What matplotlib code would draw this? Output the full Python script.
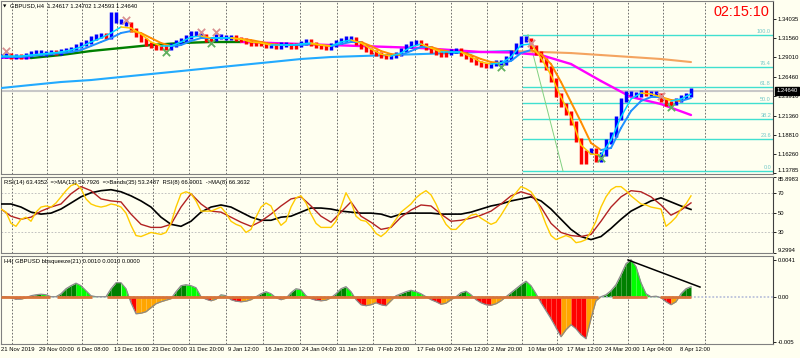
import numpy as np
import matplotlib
matplotlib.use("Agg")
import matplotlib.pyplot as plt
from matplotlib.collections import LineCollection

plt.rcParams['font.family'] = ['Liberation Sans', 'DejaVu Sans']

# ---- values (x runs in chart pixels from the left edge) ----
# GBPUSD H4 close, one value every 5 px
close = [1.2918, 1.2931, 1.2905, 1.2918, 1.2905, 1.2931, 1.2957, 1.2971, 1.2944, 1.2957,
         1.2971, 1.2957, 1.2984, 1.2997, 1.3010, 1.3049, 1.3076, 1.3102, 1.3154, 1.3181,
         1.3194, 1.3167, 1.3469, 1.3377, 1.3364, 1.3338, 1.3259, 1.3194, 1.3128, 1.3076,
         1.3049, 1.3023, 1.3036, 1.3023, 1.3062, 1.3102, 1.3128, 1.3167, 1.3220, 1.3207,
         1.3181, 1.3128, 1.3141, 1.3181, 1.3167, 1.3154, 1.3167, 1.3141, 1.3128, 1.3102,
         1.3076, 1.3089, 1.3076, 1.3049, 1.3062, 1.3036, 1.3076, 1.3062, 1.3036, 1.3062,
         1.3089, 1.3115, 1.3076, 1.3049, 1.3036, 1.3023, 1.3062, 1.3102, 1.3128, 1.3154,
         1.3141, 1.3089, 1.3036, 1.2997, 1.2971, 1.2944, 1.2918, 1.2905, 1.2918, 1.2944,
         1.2997, 1.3049, 1.3089, 1.3102, 1.3062, 1.3023, 1.2984, 1.2957, 1.2931, 1.2957,
         1.2984, 1.2997, 1.2944, 1.2905, 1.2866, 1.2826, 1.2800, 1.2787, 1.2813, 1.2839,
         1.2826, 1.2892, 1.2971, 1.3062, 1.3154, 1.3128, 1.3036, 1.2957, 1.2866, 1.2761,
         1.2603, 1.2406, 1.2275, 1.2170, 1.2039, 1.1816, 1.1527, 1.1658, 1.1685, 1.1554,
         1.1632, 1.1793, 1.1885, 1.2105, 1.2341, 1.2433, 1.2420, 1.2406, 1.2446, 1.2420,
         1.2433, 1.2406, 1.2341, 1.2288, 1.2301, 1.2341, 1.2380, 1.2406, 1.2464]

# fast / slow moving averages, every 10 px
fast_ma = [1.2918, 1.2918, 1.2918, 1.2931, 1.2944, 1.2957, 1.2971, 1.2997, 1.3036, 1.3102,
           1.3154, 1.3220, 1.3299, 1.3285, 1.3207, 1.3102, 1.3049, 1.3049, 1.3102, 1.3167,
           1.3181, 1.3154, 1.3154, 1.3154, 1.3141, 1.3102, 1.3089, 1.3062, 1.3062, 1.3062,
           1.3076, 1.3089, 1.3062, 1.3049, 1.3102, 1.3128, 1.3089, 1.3010, 1.2944, 1.2918,
           1.2957, 1.3036, 1.3076, 1.3023, 1.2971, 1.2971, 1.2971, 1.2905, 1.2839, 1.2813,
           1.2826, 1.2905, 1.3062, 1.3076, 1.2892, 1.2669, 1.2380, 1.2118, 1.1750, 1.1632,
           1.1619, 1.1816, 1.2118, 1.2354, 1.2433, 1.2420, 1.2380, 1.2328, 1.2354, 1.2420]
slow_ma = [1.2905, 1.2905, 1.2905, 1.2918, 1.2931, 1.2944, 1.2957, 1.2971, 1.2997, 1.3049,
           1.3102, 1.3154, 1.3220, 1.3246, 1.3220, 1.3154, 1.3089, 1.3049, 1.3062, 1.3115,
           1.3154, 1.3154, 1.3154, 1.3154, 1.3141, 1.3128, 1.3102, 1.3076, 1.3062, 1.3062,
           1.3062, 1.3076, 1.3062, 1.3049, 1.3076, 1.3102, 1.3102, 1.3049, 1.2984, 1.2944,
           1.2931, 1.2984, 1.3036, 1.3036, 1.2997, 1.2971, 1.2971, 1.2931, 1.2879, 1.2839,
           1.2826, 1.2853, 1.2957, 1.2997, 1.2944, 1.2813, 1.2577, 1.2314, 1.2052, 1.1777,
           1.1685, 1.1711, 1.1973, 1.2196, 1.2328, 1.2380, 1.2380, 1.2341, 1.2328, 1.2367]

# long moving averages, every 30 px
ma_mid = [1.2895, 1.2892, 1.2931, 1.2984, 1.3023, 1.3062, 1.3089, 1.3102, 1.3102, 1.3089,
          1.3076, 1.3062, 1.3049, 1.3036, 1.3023, 1.2997, 1.2971, 1.2965, 1.2931, 1.2813,
          1.2590, 1.2380, 1.2288, 1.2144]
ma_long = [1.2498, 1.2538, 1.2577, 1.2603, 1.2643, 1.2682, 1.2721, 1.2761, 1.2800, 1.2839,
           1.2879, 1.2905, 1.2918, 1.2931, 1.2944, 1.2957, 1.2971, 1.2984, 1.2971, 1.2957,
           1.2931, 1.2905, 1.2879, 1.2839]

fib_low, fib_high = 1.1409, 1.3200
fib_levels = [0.0, 23.6, 38.2, 50.0, 61.8, 76.4, 100.0]
fib_start = 522
fib_trend_x = [527, 562]
top_marks = [1, 25, 40, 43, 106, 132]
bottom_marks = [33, 42, 100, 120, 134]

# RSI panel: bands (black) and MA(13) every 10 px, RSI(8) every 5 px
rsi_bands = [58.7, 58.7, 55.6, 50.5, 48.5, 49.5, 53.6, 59.7, 65.9, 70.0,
             72.1, 73.1, 71.0, 66.9, 61.8, 55.6, 45.4, 38.2, 36.2, 41.3,
             50.5, 55.6, 57.7, 55.6, 50.5, 45.4, 42.3, 42.3, 45.4, 46.4,
             50.5, 54.6, 54.6, 53.6, 51.5, 50.5, 49.5, 49.5, 48.5, 45.4,
             48.5, 49.5, 49.5, 49.5, 48.5, 48.5, 48.5, 50.5, 53.6, 56.7,
             58.7, 61.8, 63.8, 65.9, 61.8, 53.6, 43.3, 33.1, 25.9, 22.8,
             25.9, 34.1, 43.3, 51.5, 56.7, 61.8, 64.9, 60.8, 56.7, 53.2]
rsi_ma13 = [53.6, 46.4, 43.3, 45.4, 51.5, 55.6, 58.7, 69.0, 76.2, 72.1,
            63.8, 61.8, 60.8, 48.5, 38.2, 35.1, 35.1, 38.2, 55.6, 69.0,
            58.7, 51.5, 50.5, 45.4, 40.3, 36.2, 41.3, 48.5, 56.7, 63.8,
            65.9, 56.7, 46.4, 40.3, 50.5, 60.8, 46.4, 40.3, 33.1, 35.1,
            45.4, 52.6, 57.7, 56.7, 48.5, 41.3, 42.3, 44.4, 47.4, 51.5,
            58.7, 66.9, 71.0, 67.9, 55.6, 39.2, 30.0, 26.9, 25.9, 28.0,
            41.3, 55.6, 65.9, 72.1, 71.0, 65.9, 57.7, 47.4, 52.6, 59.8]
rsi8 = [53.6, 50.5, 39.2, 36.2, 43.3, 45.4, 41.3, 50.5, 55.6, 56.7,
        55.6, 59.7, 65.9, 72.1, 77.2, 79.2, 74.1, 63.8, 58.7, 56.7,
        55.6, 56.7, 58.7, 57.7, 55.6, 49.5, 37.2, 26.9, 25.9, 28.0,
        30.0, 29.0, 28.0, 30.0, 39.2, 55.6, 69.0, 71.0, 69.0, 61.8,
        51.5, 51.5, 51.5, 53.6, 55.6, 49.5, 41.3, 38.2, 36.2, 30.0,
        33.1, 45.4, 55.6, 59.7, 56.7, 45.4, 37.2, 41.3, 55.6, 64.9,
        66.9, 59.7, 48.5, 39.2, 35.1, 35.1, 35.1, 41.3, 55.6, 70.0,
        60.8, 46.4, 42.3, 41.3, 36.2, 29.0, 25.9, 30.0, 36.2, 43.3,
        50.5, 54.6, 58.7, 64.9, 69.0, 72.1, 67.9, 58.7, 47.4, 38.2,
        33.1, 33.1, 38.2, 43.3, 47.4, 48.5, 44.4, 41.3, 38.2, 40.3,
        47.4, 55.6, 63.8, 70.0, 76.2, 74.1, 71.0, 63.8, 51.5, 38.2,
        26.9, 22.8, 24.9, 26.9, 24.9, 19.7, 20.7, 22.8, 31.0, 41.3,
        55.6, 65.9, 73.1, 76.2, 76.2, 72.1, 66.9, 62.8, 58.7, 57.7,
        55.6, 54.6, 53.6, 36.2, 40.3, 45.4, 53.6, 58.7, 66.9]

# bbsqueeze histogram (units of 1e-4), every 5 px
sq_hist = [0, 0, -1.1, -2.8, -2.8, -1.1, 1.1, 2.2, 2.8, 2.2,
           0, 0, 3.3, 8.9, 12.3, 15.1, 12.3, 6.7, 1.1, 0,
           0, 0, 8.9, 15.6, 15.6, 8.9, -6.7, -19.0, -18.4, -16.7,
           -12.3, -7.8, -5.6, -3.9, -2.2, 5.6, 12.3, 13.4, 12.3, 10.0,
           0, -2.8, -4.5, -2.8, 2.2, 1.1, -3.3, -5.0, -5.6, -5.0,
           -3.3, 0, 3.3, 5.6, 3.3, -1.1, -3.3, -1.7, 4.5, 8.9,
           7.8, 1.1, -2.2, -3.9, -4.5, -3.9, -1.1, 3.3, 8.9, 11.2,
           5.6, -3.3, -8.9, -10.0, -8.9, -6.7, -8.9, -10.0, -4.5, 1.1,
           3.3, 5.6, 7.2, 5.6, 3.3, 0, -3.3, -5.6, -8.4, -7.2,
           -3.3, 0, 4.5, 6.1, 2.2, -3.3, -6.7, -8.9, -9.5, -7.8,
           -4.5, 0, 4.5, 8.9, 13.4, 17.3, 12.3, 3.3, -6.7, -15.6,
           -24.5, -34.6, -44.6, -36.8, -31.2, -35.7, -42.4, -46.8, -24.5, -4.5,
           0, 2.2, 6.7, 13.4, 24.5, 36.8, 41.3, 33.5, 15.6, 3.3,
           0, 0.6, -1.1, -5.6, -8.9, -5.6, 3.3, 8.9, 11.2]
squeeze_spans = [(49, 56), (91, 106), (597, 611), (646, 659)]
sq_trend_x = [627, 699]
sq_trend_y = [0.0041, 0.00108]

grid_x = [11, 46, 81, 116, 152, 188, 225, 262, 299, 336, 372,
          414, 450, 486, 521, 556, 592, 627, 662, 704]
date_x = [0, 38, 76, 113, 151, 188, 227, 264, 301, 338, 377,
          416, 453, 490, 527, 566, 604, 641, 679]
date_labels = ['21 Nov 2019', '29 Nov 00:00', '6 Dec 08:00', '13 Dec 16:00',
               '23 Dec 00:00', '31 Dec 20:00', '9 Jan 12:00', '16 Jan 20:00',
               '24 Jan 04:00', '31 Jan 12:00', '7 Feb 20:00', '17 Feb 04:00',
               '24 Feb 12:00', '2 Mar 20:00', '10 Mar 04:00', '17 Mar 12:00',
               '24 Mar 20:00', '1 Apr 04:00', '8 Apr 12:00']
price_ticks = [1.13785, 1.16260, 1.18810, 1.21360, 1.23910, 1.26460,
               1.29010, 1.31560, 1.34035]

W, H = 800, 358
BG = '#fffff0'
FS = 4.2

fig = plt.figure(figsize=(W / 100, H / 100), dpi=100, facecolor=BG)


def rect(l, t, r, b):
    return [l / W, 1 - b / H, (r - l) / W, (b - t) / H]


def trend_line(ax, x, y, up, down, lw, z):
    # colour every segment by its direction, like the MT4 coloured MAs
    y = np.asarray(y, float)
    pts = np.column_stack([x, y])
    segs = np.stack([pts[:-1], pts[1:]], axis=1)
    cols = [up if b >= a else down for a, b in zip(y[:-1], y[1:])]
    ax.add_collection(LineCollection(segs, colors=cols, linewidths=lw, zorder=z,
                                     capstyle='round', joinstyle='round'))


ax_p = fig.add_axes(rect(1, 1, 773, 174), facecolor=BG)
ax_r = fig.add_axes(rect(1, 177, 773, 253), facecolor=BG)
ax_s = fig.add_axes(rect(1, 256, 773, 344), facecolor=BG)

for ax in (ax_p, ax_r, ax_s):
    ax.set_xlim(0, 772)
    for g in grid_x:
        ax.axvline(g, color='#5a5a5a', lw=0.6, ls=(0, (2, 2)), zorder=0.5)
    ax.yaxis.tick_right()
    ax.tick_params(axis='y', length=2, width=0.6, pad=1.5, labelsize=FS, colors='black')
    ax.tick_params(axis='x', length=0)
    for s in ax.spines.values():
        s.set_color('#808080')
        s.set_linewidth(0.8)
    ax.spines['right'].set_color('#404040')
ax_p.set_xticks([])
ax_r.set_xticks([])

# ---- price panel ----
c = np.array(close)
xc = np.arange(len(c)) * 5
x10 = np.arange(len(fast_ma)) * 10
x30 = np.arange(len(ma_mid)) * 30
fm = np.interp(xc, x10, fast_ma)
prev = np.r_[c[0], c[:-1]]
lo = np.minimum(prev, c) - 0.0032
hi = np.maximum(prev, c) + 0.0032
bar_col = np.where(c >= fm, '#0000ff', '#ff0000')
ax_p.vlines(xc, lo, hi, colors=bar_col, lw=2.5, zorder=3.5)

trend_line(ax_p, x30, ma_long, '#22aaff', '#f4a460', 1.5, 3)
trend_line(ax_p, x30, ma_mid, '#008000', '#ff00ff', 1.7, 3.1)
trend_line(ax_p, x10, slow_ma, '#1e90ff', '#ff8c00', 1.4, 4)
trend_line(ax_p, x10, fast_ma, '#00d8ff', '#ffc800', 1.1, 4.1)

for lv in fib_levels:
    p = fib_low + (fib_high - fib_low) * lv / 100
    ax_p.plot([fib_start, 772], [p, p], color='#40e0d0', lw=1.0, zorder=1.5)
    ax_p.text(770, p + 0.0008, f'{lv:.1f}', ha='right', va='bottom',
              fontsize=4, color='#70c8c8', zorder=6)
ax_p.plot(fib_trend_x, [fib_high, fib_low], color='#80d080', lw=0.7, zorder=1.6)

ax_p.axhline(close[-1], color='#c8c8c8', lw=1.5, zorder=1.2)

ax_p.scatter(xc[top_marks], c[top_marks] + 0.005, marker='x', s=28,
             color='#d89090', linewidths=1.3, zorder=5)
ax_p.scatter(xc[bottom_marks], c[bottom_marks] - 0.005, marker='x', s=28,
             color='#60b060', linewidths=1.3, zorder=5)

ax_p.set_ylim(1.1370, 1.3640)
ax_p.set_yticks(price_ticks, [f'{t:.5f}' for t in price_ticks])
ax_p.get_yticklabels()[0].set_va('bottom')
ax_p.annotate(f'{close[-1]:.5f}', xy=(1, close[-1]), xycoords=('axes fraction', 'data'),
              xytext=(2.2, 0), textcoords='offset points', ha='left', va='center',
              color='white', fontsize=FS,
              bbox=dict(boxstyle='square,pad=0.25', fc='black', ec='black'))

# ---- RSI panel ----
x5 = np.arange(len(rsi8)) * 5
for v in (30, 50, 70):
    ax_r.axhline(v, color='#b8b8b8', lw=0.6, ls=(0, (2, 2)), zorder=0.6)
ax_r.plot(x10, rsi_bands, color='black', lw=1.2, zorder=3)
ax_r.plot(x10, rsi_ma13, color='#b22222', lw=1.0, zorder=3.1)
ax_r.plot(x5, rsi8, color='#ffcc00', lw=1.0, zorder=3.2)
ax_r.set_ylim(9.2994, 85.8983)
ax_r.set_yticks([9.2994, 30, 50, 70, 85.8983], ['9.2994', '30', '50', '70', '85.8983'])
rl = ax_r.get_yticklabels()
rl[0].set_va('bottom')
rl[-1].set_va('top')

# ---- bbsqueeze panel ----
h = np.array(sq_hist) * 1e-4
xs = np.arange(len(h)) * 5
for i in range(len(h) - 1):
    x0, x1, a, b = xs[i], xs[i + 1], h[i], h[i + 1]
    if a * b < 0:
        xm = x0 + (x1 - x0) * a / (a - b)
        parts = [(x0, xm, a, 0.0), (xm, x1, 0.0, b)]
    else:
        parts = [(x0, x1, a, b)]
    for u0, u1, v0, v1 in parts:
        if v0 + v1 > 0:
            col = '#008000' if v1 >= v0 else '#00ff00'
        elif v0 + v1 < 0:
            col = '#ff0000' if v1 <= v0 else '#ffa500'
        else:
            continue
        ax_s.fill_between([u0, u1], [v0, v1], 0, color=col, lw=0, zorder=2)
ax_s.plot(xs, h, color='#8a8a8a', lw=0.9, zorder=3)
ax_s.axhline(0, color='#b0b8d8', lw=1.1, ls=(0, (1.2, 1.2)), zorder=2.5)
start = 0
for s0, s1 in squeeze_spans:
    ax_s.plot([start, s0], [0, 0], color='#d8743a', lw=2.0, zorder=4, solid_capstyle='butt')
    start = s1
ax_s.plot([start, xs[-1]], [0, 0], color='#d8743a', lw=2.0, zorder=4, solid_capstyle='butt')
ax_s.plot(sq_trend_x, sq_trend_y, color='black', lw=1.1, zorder=5)
ax_s.set_ylim(-0.00527, 0.00454)
ax_s.set_yticks([-0.005, 0, 0.0041], ['-0.005', '0.00', '0.0041'])

ax_s.set_xticks(date_x, date_labels, fontsize=FS)
ax_s.tick_params(axis='x', pad=2.5)
for lbl in ax_s.get_xticklabels():
    lbl.set_ha('left')

# ---- texts ----
fig.text(3 / W, 1 - 6 / H, '\u25bc', fontsize=3.2, va='center', family='DejaVu Sans')
fig.text(10 / W, 1 - 6 / H, 'GBPUSD,H4  1.24617 1.24702 1.24593 1.24640',
         fontsize=FS, va='center')
fig.text(769 / W, 1 - 11.5 / H, '02:15:10', fontsize=10.4, color='red',
         ha='right', va='center')
fig.text(4 / W, 1 - 182.5 / H,
         'RSI(14) 63.4352  =>MA(13) 59.7926  =>Bands(35) 53.2487  RSI(8) 66.9001  ->MA(8) 66.3632',
         fontsize=FS, va='center')
fig.text(4 / W, 1 - 262 / H, 'H4( GBPUSD bbsqueeze(21) 0.0010 0.0010 0.0000',
         fontsize=FS, va='center')

fig.savefig('out.png', dpi=100, facecolor=BG)
